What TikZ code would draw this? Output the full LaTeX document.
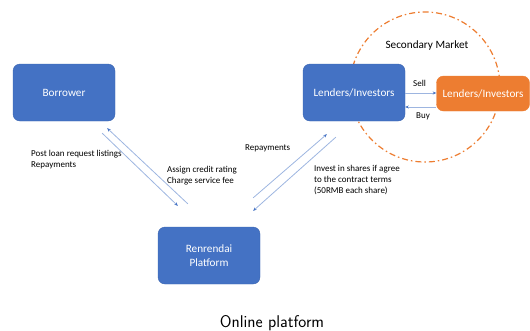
\documentclass[tikz,border=0pt]{standalone}
\usepackage{fontspec}
\setmainfont{Carlito}
\usetikzlibrary{arrows.meta,positioning}

\definecolor{boxblue}{HTML}{4472C4}
\definecolor{boxedge}{HTML}{3A64B0}
\definecolor{lineblue}{HTML}{9DB5E0}
\definecolor{mktorange}{HTML}{ED7D31}

\tikzset{
  party/.style={draw=boxedge, fill=boxblue, rounded corners=7pt, text=white,
    minimum width=102pt, minimum height=57pt, align=center, font=\fontsize{11.2}{14}\selectfont},
  flow/.style={draw=lineblue, line width=0.8pt, -{Stealth[length=3.5pt,width=3pt,color=boxblue]}},
  note/.style={anchor=west, inner sep=0pt, align=left, font=\fontsize{9}{11}\selectfont}
}

\begin{document}
\begin{tikzpicture}[x=1pt,y=-1pt]
\useasboundingbox (0,0) rectangle (530,330);

\draw[mktorange, line width=1.2pt, dash pattern=on 6pt off 3pt on 1.5pt off 3pt] (425,87) circle (75);
\node at (427,46) {\fontsize{11.2}{13}\selectfont Secondary Market};

\node[party] (borrower) at (64,92.5) {Borrower};
\node[party] (lenders) at (354,92.5) {Lenders/Investors};
\node[party] (platform) at (209,255.5) {Renrendai\\Platform};
\node[party, draw=mktorange, fill=mktorange, minimum width=93pt, minimum height=35pt, inner xsep=1pt] (buyer) at (483,93.5) {Lenders/Investors};

\draw[flow] ([shift={(30,-23)}]platform.north west) -- ([shift={(-8,7)}]borrower.south east);
\draw[flow] ([shift={(-13,12)}]borrower.south east) -- ([shift={(20,-21)}]platform.north west);
\draw[flow] ([shift={(-7,-29)}]platform.north east) -- ([shift={(24,13)}]lenders.south west);
\draw[flow] ([shift={(33,16)}]lenders.south west) -- ([shift={(-7,-16)}]platform.north east);
\draw[flow] ([shift={(0,0.5)}]lenders.east) -- ([shift={(0,-0.5)}]buyer.west);
\draw[flow] ([shift={(0,13.5)}]buyer.west) -- ([shift={(0,14.5)}]lenders.east);

\node[note] at (31,160) {Post loan request listings\\Repayments};
\node[note] at (167,175.5) {Assign credit rating\\Charge service fee};
\node[note] at (245,148) {Repayments};
\node[note] at (314,180) {Invest in shares if agree\\to the contract terms\\(50RMB each share)};
\node[note] at (413,83) {Sell};
\node[note] at (416,116) {Buy};

\node at (272,323) {\sffamily\fontsize{17}{19}\selectfont Online platform};
\end{tikzpicture}
\end{document}
